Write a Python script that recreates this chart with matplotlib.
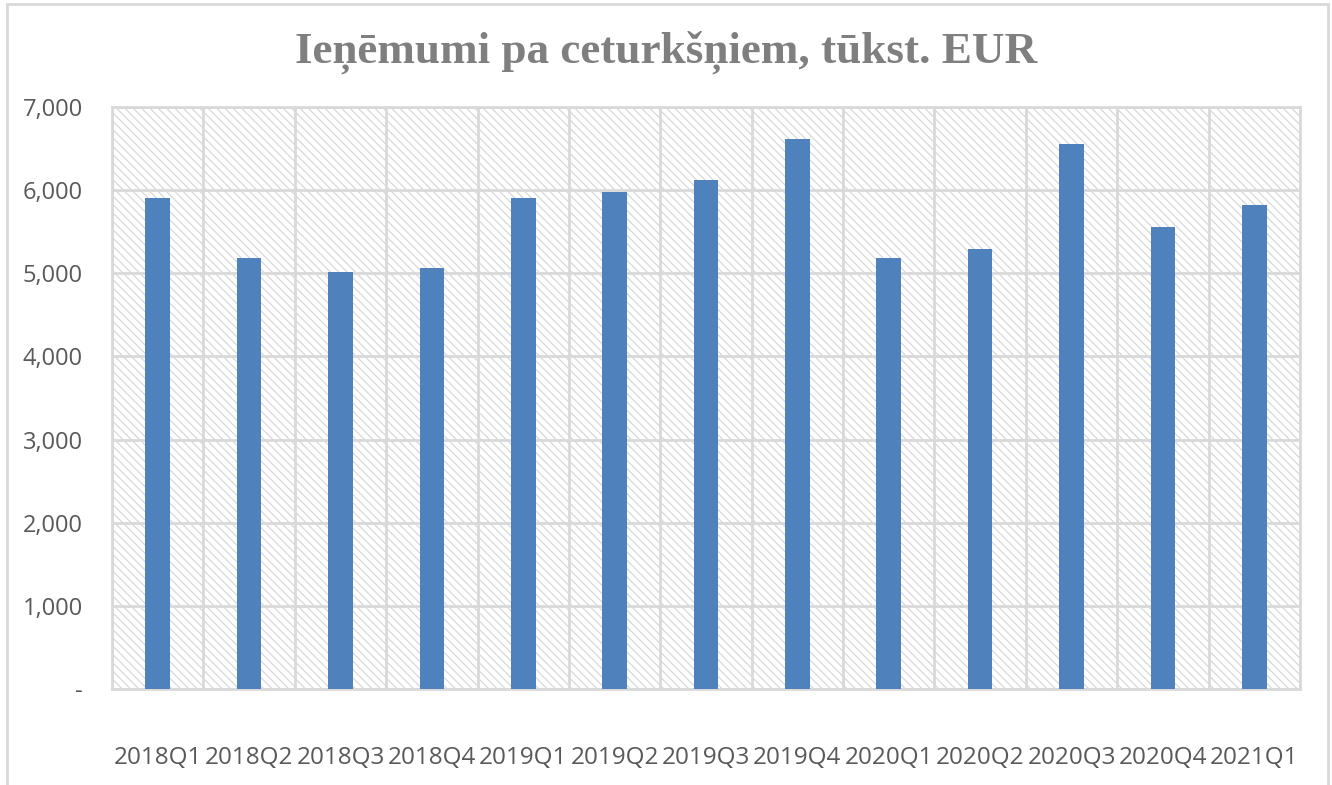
import matplotlib.pyplot as plt
import matplotlib.patches as mpatches
from matplotlib.ticker import FuncFormatter
import numpy as np

# data
quarters = ["2018Q1", "2018Q2", "2018Q3", "2018Q4", "2019Q1", "2019Q2", "2019Q3",
            "2019Q4", "2020Q1", "2020Q2", "2020Q3", "2020Q4", "2021Q1"]
revenue = [5900, 5185, 5015, 5065, 5905, 5975, 6120,
           6615, 5185, 5290, 6555, 5555, 5825]
y_ticks = [0, 1000, 2000, 3000, 4000, 5000, 6000, 7000]
title = "Ieņēmumi pa ceturkšņiem, tūkst. EUR"

GRID = "#d9d9d9"
TEXT = "#595959"
BAR = "#4f81bd"

plt.rcParams["hatch.linewidth"] = 0.8

fig = plt.figure(figsize=(13.32, 7.85), dpi=100)
ax = fig.add_axes([112 / 1332, 1 - 689 / 785, (1300 - 112) / 1332, (689 - 107) / 785])

# outer chart frame (bottom runs off the image)
frame = mpatches.Rectangle((7 / 1332, -0.05), (1328 - 7) / 1332, 1.05 - 4 / 785,
                           transform=fig.transFigure, fill=False,
                           edgecolor=GRID, linewidth=2, clip_on=False)
fig.patches.append(frame)

# hatched plot-area background
bg = mpatches.Rectangle((0, 0), 1, 1, transform=ax.transAxes, facecolor="white",
                        edgecolor="#d4d4d4", hatch="\\\\\\\\", linewidth=0, zorder=0)
ax.add_patch(bg)

x = np.arange(len(quarters))
ax.bar(x, revenue, width=0.27, color=BAR, zorder=3)

ax.set_xlim(-0.5, len(quarters) - 0.5)
ax.set_ylim(0, 7000)
ax.set_yticks(y_ticks)
ax.yaxis.set_major_formatter(FuncFormatter(lambda v, p: "-" if v == 0 else f"{int(v):,}"))
ax.set_xticks(x)
ax.set_xticklabels(quarters)
ax.set_xticks(np.arange(-0.5, len(quarters)), minor=True)

ax.grid(True, axis="y", which="major", color=GRID, linewidth=2, zorder=1)
ax.grid(True, axis="x", which="minor", color=GRID, linewidth=2, zorder=1)
ax.set_axisbelow(True)
ax.tick_params(axis="both", which="both", length=0)
ax.tick_params(axis="y", pad=21, labelsize=17, labelcolor=TEXT)
ax.tick_params(axis="x", pad=41, labelsize=17.5, labelcolor=TEXT)
for lab in ax.get_xticklabels() + ax.get_yticklabels():
    lab.set_fontfamily("Open Sans")
for s in ax.spines.values():
    s.set_color(GRID)
    s.set_linewidth(2)

fig.text(0.5, 1 - 52 / 785, title, ha="center", va="center", fontsize=32.5,
         fontweight="bold", color="#7f7f7f", family="Liberation Serif")

fig.savefig("out.png", dpi=100)
